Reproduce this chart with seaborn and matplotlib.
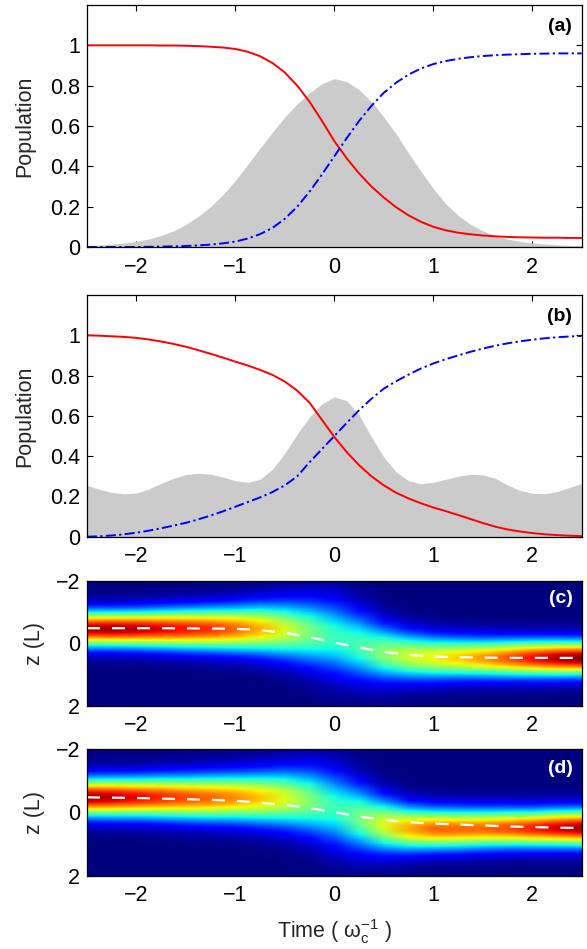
import numpy as np
import pandas as pd
import matplotlib
matplotlib.use("Agg")
import matplotlib.pyplot as plt
import seaborn as sns

# ---------------- data ----------------
# time grid for population curves (omega_c^-1)
t_pop = [-2.5, -2.375, -2.25, -2.125, -2.0, -1.875, -1.75, -1.625, -1.5, -1.375,
         -1.25, -1.125, -1.0, -0.875, -0.75, -0.625, -0.5, -0.375, -0.25, -0.125,
         0.0, 0.125, 0.25, 0.375, 0.5, 0.625, 0.75, 0.875, 1.0, 1.125,
         1.25, 1.375, 1.5, 1.625, 1.75, 1.875, 2.0, 2.125, 2.25, 2.375, 2.5]

# panel (a)
red_a = [1.0, 1.0, 1.0, 1.0, 1.0, 1.0, 0.999, 0.999, 0.998, 0.996,
         0.993, 0.989, 0.982, 0.968, 0.946, 0.912, 0.865, 0.80, 0.72, 0.625,
         0.525, 0.44, 0.365, 0.30, 0.245, 0.197, 0.157, 0.125, 0.10, 0.083,
         0.071, 0.063, 0.057, 0.053, 0.05, 0.048, 0.047, 0.046, 0.046, 0.045, 0.045]
blue_a = [0.0, 0.0, 0.0, 0.0, 0.0, 0.001, 0.002, 0.003, 0.005, 0.008,
          0.012, 0.018, 0.027, 0.042, 0.064, 0.095, 0.14, 0.20, 0.275, 0.36,
          0.45, 0.54, 0.625, 0.70, 0.765, 0.815, 0.855, 0.885, 0.907, 0.922,
          0.933, 0.941, 0.947, 0.951, 0.954, 0.956, 0.958, 0.959, 0.96, 0.96, 0.96]
gray_a = [0.007, 0.01, 0.014, 0.02, 0.028, 0.04, 0.057, 0.08, 0.112, 0.152,
          0.20, 0.26, 0.33, 0.41, 0.49, 0.57, 0.645, 0.71, 0.765, 0.81,
          0.835, 0.82, 0.78, 0.72, 0.645, 0.56, 0.465, 0.375, 0.29, 0.215,
          0.158, 0.113, 0.08, 0.056, 0.039, 0.028, 0.02, 0.015, 0.011, 0.008, 0.006]

# panel (b)
red_b = [1.0, 0.998, 0.995, 0.992, 0.987, 0.979, 0.969, 0.957, 0.943, 0.926,
         0.908, 0.889, 0.869, 0.85, 0.828, 0.803, 0.77, 0.725, 0.665, 0.58,
         0.495, 0.42, 0.355, 0.30, 0.255, 0.218, 0.19, 0.166, 0.145, 0.127,
         0.108, 0.088, 0.068, 0.05, 0.036, 0.026, 0.018, 0.012, 0.008, 0.005, 0.003]
blue_b = [0.0, 0.002, 0.006, 0.012, 0.02, 0.03, 0.042, 0.055, 0.069, 0.086,
          0.105, 0.126, 0.149, 0.172, 0.195, 0.222, 0.255, 0.30, 0.37, 0.435,
          0.50, 0.565, 0.628, 0.685, 0.735, 0.772, 0.805, 0.835, 0.86, 0.881,
          0.90, 0.918, 0.934, 0.948, 0.96, 0.97, 0.978, 0.985, 0.99, 0.994, 0.997]
gray_b = [0.255, 0.235, 0.22, 0.213, 0.217, 0.237, 0.265, 0.29, 0.308, 0.315,
          0.31, 0.296, 0.278, 0.27, 0.285, 0.335, 0.415, 0.51, 0.595, 0.66,
          0.694, 0.675, 0.605, 0.495, 0.395, 0.322, 0.278, 0.263, 0.27, 0.285,
          0.30, 0.31, 0.307, 0.29, 0.257, 0.23, 0.216, 0.213, 0.224, 0.244, 0.265]

# wave-packet panels (c), (d): time grid, mean position (dashed), band peak position,
# band width and band peak intensity (normalised colour scale)
t_wp = [-2.5, -2.25, -2.0, -1.75, -1.5, -1.25, -1.0, -0.75, -0.5, -0.25, 0.0,
        0.25, 0.5, 0.75, 1.0, 1.25, 1.5, 1.75, 2.0, 2.25, 2.5]
mean_c = [-0.48, -0.48, -0.48, -0.48, -0.475, -0.47, -0.46, -0.42, -0.33, -0.19, -0.02,
          0.14, 0.28, 0.37, 0.43, 0.45, 0.46, 0.47, 0.47, 0.47, 0.47]
peak_c = [-0.47, -0.47, -0.47, -0.47, -0.47, -0.47, -0.47, -0.47, -0.43, -0.35, -0.2,
          0.06, 0.29, 0.40, 0.45, 0.46, 0.47, 0.47, 0.47, 0.47, 0.47]
width_c = [0.39, 0.39, 0.40, 0.42, 0.44, 0.46, 0.49, 0.54, 0.61, 0.70, 0.78,
           0.72, 0.60, 0.51, 0.47, 0.44, 0.42, 0.41, 0.40, 0.39, 0.38]
amp_c = [0.96, 0.97, 0.95, 0.92, 0.89, 0.86, 0.80, 0.72, 0.61, 0.50, 0.42,
         0.44, 0.52, 0.60, 0.64, 0.69, 0.75, 0.82, 0.90, 0.96, 1.0]

mean_d = [-0.48, -0.47, -0.46, -0.44, -0.42, -0.40, -0.37, -0.31, -0.24, -0.14, -0.01,
          0.13, 0.23, 0.31, 0.35, 0.38, 0.41, 0.44, 0.46, 0.48, 0.49]
peak_d = [-0.48, -0.48, -0.48, -0.48, -0.47, -0.47, -0.47, -0.46, -0.44, -0.36, -0.14,
          0.16, 0.39, 0.50, 0.52, 0.52, 0.51, 0.50, 0.50, 0.49, 0.49]
width_d = [0.41, 0.42, 0.43, 0.45, 0.47, 0.49, 0.51, 0.55, 0.61, 0.70, 0.78,
           0.70, 0.57, 0.48, 0.44, 0.43, 0.42, 0.41, 0.40, 0.40, 0.40]
amp_d = [0.97, 0.95, 0.91, 0.87, 0.83, 0.80, 0.76, 0.70, 0.62, 0.51, 0.42,
         0.49, 0.62, 0.73, 0.80, 0.80, 0.80, 0.83, 0.88, 0.93, 0.97]

x_ticks = [-2, -1, 0, 1, 2]
pop_ticks = [0, 0.2, 0.4, 0.6, 0.8, 1]
pop_ticklabels = ["0", "0.2", "0.4", "0.6", "0.8", "1"]
z_ticks = [-2, 0, 2]
panel_labels = ["(a)", "(b)", "(c)", "(d)"]

# ---------------- style ----------------
sns.set_theme(style="ticks")
plt.rcParams.update({
    "font.family": ["Liberation Sans", "DejaVu Sans"],
    "font.size": 15.5,
    "axes.linewidth": 0.9,
    "axes.edgecolor": "black",
    "xtick.direction": "in",
    "ytick.direction": "in",
    "xtick.top": True,
    "ytick.right": True,
    "xtick.major.size": 4,
    "ytick.major.size": 4,
    "xtick.major.width": 0.8,
    "ytick.major.width": 0.8,
    "xtick.color": "black",
    "ytick.color": "black",
    "xtick.labelsize": 15.5,
    "ytick.labelsize": 15.5,
    "axes.labelsize": 15.5,
    "mathtext.fontset": "custom",
    "mathtext.rm": "Liberation Sans",
    "mathtext.it": "Liberation Sans:italic",
    "lines.scale_dashes": False,
})

W, H = 587, 949
fig = plt.figure(figsize=(W / 100, H / 100), dpi=100)


def axes_px(left, top, right, bottom):
    return fig.add_axes([left / W, 1 - bottom / H, (right - left) / W, (bottom - top) / H])


ax_a = axes_px(87, 5, 581.7, 247)
ax_b = axes_px(87, 295, 581.7, 536.7)
ax_c = axes_px(87, 580.7, 581.7, 705.7)
ax_d = axes_px(87, 749.3, 581.7, 875.7)

dashdot = (0, (7.2, 2.4, 1.6, 2.4))
gray_col = "#cbcbcb"

for ax, red, blue, gray, lab in [(ax_a, red_a, blue_a, gray_a, panel_labels[0]),
                                 (ax_b, red_b, blue_b, gray_b, panel_labels[1])]:
    df = pd.DataFrame({"t": t_pop, "red": red, "blue": blue, "gray": gray})
    ax.fill_between(df["t"], 0, df["gray"], color=gray_col, lw=0, zorder=1)
    sns.lineplot(data=df, x="t", y="red", ax=ax, color=(1, 0, 0), lw=1.4, zorder=3)
    sns.lineplot(data=df, x="t", y="blue", ax=ax, color=(0, 0, 1), lw=1.4,
                 linestyle=dashdot, zorder=3)
    ax.set_xlim(-2.5, 2.5)
    ax.set_ylim(0, 1.2)
    ax.set_xticks(x_ticks)
    ax.set_yticks(pop_ticks)
    ax.set_yticklabels(pop_ticklabels)
    ax.set_xlabel("")
    ax.set_ylabel("Population")
    ax.yaxis.set_label_coords(-0.105, 0.5)
    ax.text(0.98, 0.946, lab, transform=ax.transAxes, ha="right", va="top",
            fontsize=14, fontweight="bold", color="black")

z_grid = np.linspace(-2, 2, 241)
for ax, mean, peak, width, amp, lab, ltop in [
        (ax_c, mean_c, peak_c, width_c, amp_c, panel_labels[2], 0.925),
        (ax_d, mean_d, peak_d, width_d, amp_d, panel_labels[3], 0.915)]:
    pk = np.array(peak)[None, :]
    wd = np.array(width)[None, :]
    am = np.array(amp)[None, :]
    img = am * np.exp(-(z_grid[:, None] - pk) ** 2 / (2 * wd ** 2))
    dt = t_wp[1] - t_wp[0]
    ax.imshow(img, cmap="jet", vmin=0, vmax=1, aspect="auto", origin="upper",
              interpolation="bilinear",
              extent=[t_wp[0] - dt / 2, t_wp[-1] + dt / 2, 2, -2], zorder=1)
    dfm = pd.DataFrame({"t": t_wp, "z": mean})
    sns.lineplot(data=dfm, x="t", y="z", ax=ax, color="white", lw=1.6,
                 linestyle=(0, (9.4, 8.6)), zorder=3)
    ax.set_xlim(-2.5, 2.5)
    ax.set_ylim(2, -2)
    ax.set_xticks(x_ticks)
    ax.set_yticks(z_ticks)
    ax.set_xlabel("")
    ax.set_ylabel("z (L)")
    ax.yaxis.set_label_coords(-0.085, 0.5)
    ax.grid(False)
    ax.text(0.983, ltop, lab, transform=ax.transAxes, ha="right", va="top",
            fontsize=14, fontweight="bold", color="white")

ax_d.set_xlabel(r"Time ( $\mathrm{\omega}_\mathrm{c}^{-1}$ )")
ax_d.xaxis.set_label_coords(0.5, -0.33)

for ax in (ax_a, ax_b, ax_c, ax_d):
    ax.tick_params(axis="x", pad=7)
    ax.tick_params(axis="y", pad=5)
    for s in ax.spines.values():
        s.set_color("black")
        s.set_zorder(5)

fig.savefig("out.png", dpi=100)
